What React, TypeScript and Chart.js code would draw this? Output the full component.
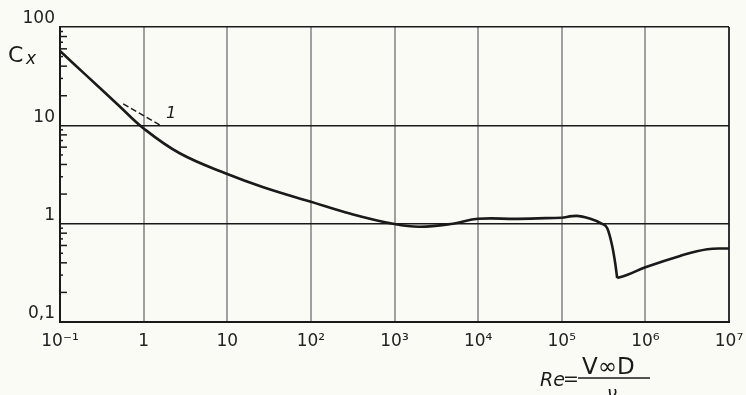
import { useEffect, useRef } from 'react';
import { Chart, registerables } from 'chart.js';

Chart.register(...registerables);

// Axis ticks
const xTicks = [0.1, 1, 10, 100, 1e3, 1e4, 1e5, 1e6, 1e7];
const xTickLabels = ['10⁻¹', '1', '10', '10²', '10³', '10⁴', '10⁵', '10⁶', '10⁷'];
const yTicks = [0.1, 1, 10, 100];
const yTickLabels = ['0,1', '1', '10', '100'];
const yMinorMultipliers = [2, 3, 4, 5, 6, 7, 8, 9];
const yMinorDecades = [0.1, 1, 10];

// Main drag curve Cx(Re)
const reValues = [0.1, 0.2, 0.5, 1, 2.7, 10, 27, 100, 300, 1000, 2000, 5000, 1e4, 3e4, 1e5, 1.5e5, 2.2e5, 3e5, 3.5e5, 4e5, 4.35e5, 4.6e5, 6e5, 1e6, 2.6e6, 5.5e6, 1e7];
const cxValues = [57, 33, 16, 9.3, 5.2, 3.2, 2.35, 1.67, 1.26, 0.99, 0.93, 1.0, 1.12, 1.12, 1.15, 1.2, 1.12, 1.0, 0.9, 0.6, 0.4, 0.28, 0.3, 0.36, 0.47, 0.55, 0.56];
// Re range of the drag crisis section (drawn with monotone interpolation)
const crisisStartRe = 1e5;
const crisisEndRe = 4.6e5;

// Dashed curve "1"
const dashRe = [0.57, 1.66];
const dashCx = [16.5, 9.8];
const dashLabel = '1';
const dashLabelRe = 1.85;
const dashLabelCx = 12.0;

const FONT = '"DejaVu Sans", sans-serif';
const INK = '#1a1a1a';

export default function App() {
  const ref = useRef<HTMLCanvasElement | null>(null);

  useEffect(() => {
    const canvas = ref.current;
    if (!canvas) return;

    const pts = reValues.map((r, i) => ({ x: r, y: cxValues[i] }));
    const i1 = reValues.indexOf(crisisStartRe);
    const i2 = reValues.indexOf(crisisEndRe);
    const seg = (a: number, b: number) => pts.slice(a, b + 1);
    const lineStyle = { borderColor: INK, borderWidth: 2.6, pointRadius: 0, fill: false };

    const decor = {
      id: 'decor',
      beforeDraw(chart: any) {
        const c = chart.ctx;
        c.save();
        c.fillStyle = '#fbfbf6';
        c.fillRect(0, 0, chart.width, chart.height);
        c.restore();
      },
      afterDraw(chart: any) {
        const c = chart.ctx;
        const ys = chart.scales.y;
        const xs = chart.scales.x;
        const left = chart.chartArea.left;
        c.save();
        // minor ticks on the y axis (inside)
        c.strokeStyle = INK;
        c.lineWidth = 1.5;
        yMinorDecades.forEach((d) => {
          yMinorMultipliers.forEach((m) => {
            const y = ys.getPixelForValue(m * d);
            const len = m % 2 === 0 ? 7 : 3;
            c.beginPath();
            c.moveTo(left, y);
            c.lineTo(left + len, y);
            c.stroke();
          });
        });
        // Cx label
        c.fillStyle = INK;
        c.textBaseline = 'alphabetic';
        c.textAlign = 'left';
        c.font = `22px ${FONT}`;
        c.fillText('C', 8, 62);
        c.font = `italic 17px ${FONT}`;
        c.fillText('x', 26, 64);
        // curve label "1"
        c.font = `italic 16px ${FONT}`;
        c.fillText(dashLabel, xs.getPixelForValue(dashLabelRe), ys.getPixelForValue(dashLabelCx));
        // x-axis title: Re = V∞D / ν
        c.font = `italic 19px ${FONT}`;
        c.fillText('Re', 540, 386);
        c.font = `19px ${FONT}`;
        c.fillText('=', 563, 385);
        c.font = `23px ${FONT}`;
        c.fillText('V∞D', 582, 374);
        c.lineWidth = 1.5;
        c.beginPath();
        c.moveTo(578, 378);
        c.lineTo(650, 378);
        c.stroke();
        c.font = `italic 18px ${FONT}`;
        c.fillText('ν', 607, 399);
        c.restore();
      },
    };

    const chart = new Chart(canvas, {
      type: 'line',
      data: {
        datasets: [
          { ...lineStyle, data: seg(0, i1), tension: 0.4 },
          { ...lineStyle, data: seg(i1, i2), cubicInterpolationMode: 'monotone' },
          { ...lineStyle, data: seg(i2, pts.length - 1), tension: 0.4 },
          {
            data: dashRe.map((r, i) => ({ x: r, y: dashCx[i] })),
            borderColor: INK,
            borderWidth: 1.5,
            borderDash: [6, 3],
            pointRadius: 0,
            fill: false,
          },
        ],
      },
      options: {
        responsive: false,
        maintainAspectRatio: false,
        animation: false,
        layout: { padding: { top: 27, right: 17, left: 0, bottom: 0 } },
        plugins: { legend: { display: false }, tooltip: { enabled: false } },
        scales: {
          x: {
            type: 'logarithmic',
            min: 0.1,
            max: 1e7,
            afterBuildTicks: (s: any) => {
              s.ticks = xTicks.map((v) => ({ value: v }));
            },
            afterFit: (s: any) => {
              s.height = 73;
              s.paddingLeft = 0;
              s.paddingRight = 0;
            },
            ticks: {
              autoSkip: false,
              maxRotation: 0,
              minRotation: 0,
              padding: 9,
              color: '#222',
              font: { family: FONT, size: 17 },
              callback: (v: any) => xTickLabels[xTicks.indexOf(Number(v))] ?? '',
            },
            grid: {
              drawTicks: false,
              lineWidth: 2,
              color: (ctx: any) => (ctx.tick && ctx.tick.value === 1e7 ? '#333' : '#a0a0a0'),
            },
            border: { color: INK, width: 2 },
          },
          y: {
            type: 'logarithmic',
            min: 0.1,
            max: 100,
            afterBuildTicks: (s: any) => {
              s.ticks = yTicks.map((v) => ({ value: v }));
            },
            afterFit: (s: any) => {
              s.width = 60;
              s.paddingTop = 0;
              s.paddingBottom = 0;
            },
            ticks: {
              autoSkip: false,
              padding: 5,
              labelOffset: -8,
              color: '#222',
              font: { family: FONT, size: 17 },
              callback: (v: any) => yTickLabels[yTicks.indexOf(Number(v))] ?? '',
            },
            grid: {
              drawTicks: false,
              lineWidth: 1.6,
              color: INK,
            },
            border: { color: INK, width: 2 },
          },
        },
      },
      plugins: [decor],
    } as any);

    return () => chart.destroy();
  }, []);

  return (
    <div style={{ position: 'absolute', left: 0, top: 0, width: 746, height: 395, background: '#fbfbf6' }}>
      <canvas ref={ref} width={746} height={395} style={{ display: 'block', width: 746, height: 395 }} />
    </div>
  );
}
